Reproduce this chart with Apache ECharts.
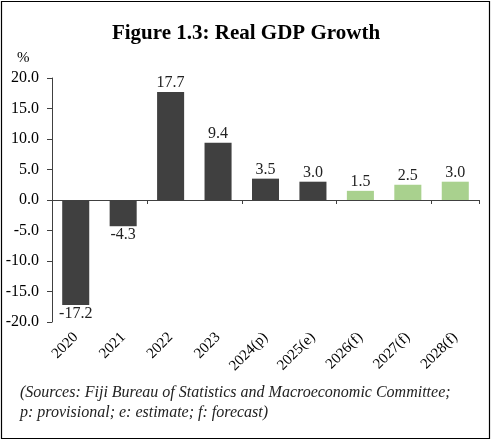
<!DOCTYPE html>
<html>
<head>
<meta charset="utf-8">
<script src="https://cdn.jsdelivr.net/npm/echarts@6/dist/echarts.min.js"></script>
<style>
  html, body { margin: 0; padding: 0; background: #fff; }
  #chart { width: 492px; height: 441px; }
</style>
</head>
<body>
<div id="chart"></div>
<script>
// Real GDP growth, annual percent change
const years = ['2020', '2021', '2022', '2023', '2024(p)', '2025(e)', '2026(f)', '2027(f)', '2028(f)'];
const growth = [-17.2, -4.3, 17.7, 9.4, 3.5, 3.0, 1.5, 2.5, 3.0];
const isForecast = [false, false, false, false, false, false, true, true, true];
const yTicks = { min: -20, max: 20, step: 5 };

const SERIF = '"Liberation Serif", "Times New Roman", serif';
const DARK = '#404040';
const GREEN = '#a9d18e';

const chart = echarts.init(document.getElementById('chart'), null, { renderer: 'canvas' });

chart.setOption({
  animation: false,
  backgroundColor: '#fff',
  title: {
    text: 'Figure 1.3: Real GDP Growth',
    left: 'center',
    top: 18,
    textStyle: { fontFamily: SERIF, fontWeight: 'bold', fontSize: 21, color: '#000' }
  },
  graphic: [
    {
      type: 'rect',
      shape: { x: 1.5, y: 1.5, width: 488, height: 437 },
      style: { fill: 'none', stroke: '#000', lineWidth: 1.2 },
      silent: true
    },
    {
      // unit label above the value axis
      type: 'text',
      left: 17,
      top: 51,
      style: { text: '%', font: '15px ' + SERIF, fill: '#000' }
    },
    {
      type: 'text',
      left: 20,
      top: 383,
      style: {
        text: '(Sources: Fiji Bureau of Statistics and Macroeconomic Committee;\np: provisional; e: estimate; f: forecast)',
        font: 'italic 16px ' + SERIF,
        fill: '#222',
        lineHeight: 20
      }
    }
  ],
  grid: { left: 52, right: 13, top: 78, bottom: 119, containLabel: false },
  xAxis: [
    {
      type: 'category',
      data: years,
      position: 'bottom',
      axisLine: { onZero: true, lineStyle: { color: DARK, width: 1 } },
      axisTick: { show: true, length: 4, inside: false, lineStyle: { color: DARK } },
      axisLabel: { show: false }
    },
    {
      type: 'category',
      data: years,
      position: 'bottom',
      axisLine: { show: false, onZero: false },
      axisTick: { show: false },
      axisLabel: {
        rotate: 45,
        margin: 13,
        fontFamily: SERIF,
        fontSize: 15,
        color: '#000'
      }
    }
  ],
  yAxis: {
    type: 'value',
    min: yTicks.min,
    max: yTicks.max,
    interval: yTicks.step,
    axisLine: { show: true, lineStyle: { color: DARK, width: 1 } },
    axisTick: { show: true, length: 5, lineStyle: { color: DARK } },
    axisLabel: {
      fontFamily: SERIF,
      fontSize: 16,
      color: '#000',
      margin: 13,
      formatter: v => v.toFixed(1)
    },
    splitLine: { show: false }
  },
  series: [
    {
      type: 'bar',
      xAxisIndex: 0,
      barCategoryGap: '43%',
      data: growth.map((v, i) => ({
        value: v,
        itemStyle: { color: isForecast[i] ? GREEN : DARK },
        label: { position: v < 0 ? 'bottom' : 'top' }
      })),
      label: {
        show: true,
        distance: 1,
        fontFamily: SERIF,
        fontSize: 16,
        color: '#222',
        formatter: p => p.value.toFixed(1)
      }
    }
  ]
});
</script>
</body>
</html>
